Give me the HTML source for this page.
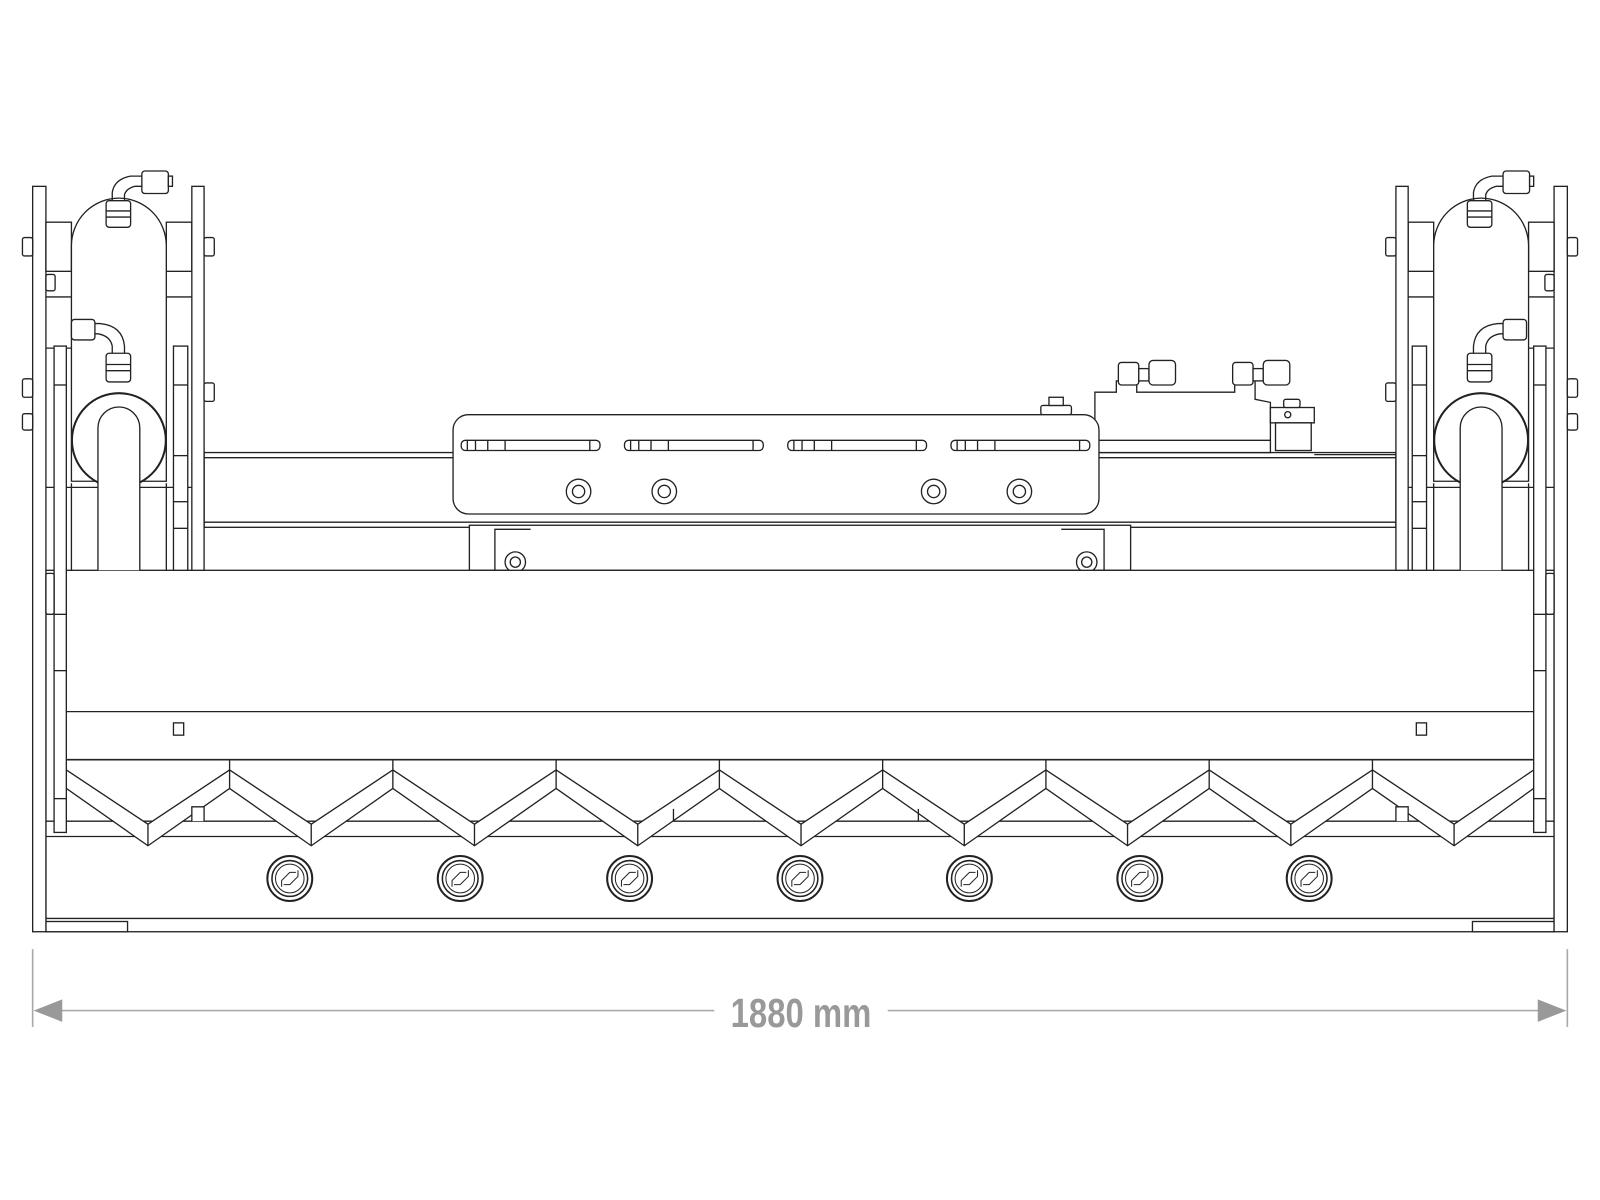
<!DOCTYPE html>
<html><head><meta charset="utf-8"><style>
html,body{margin:0;padding:0;background:#fff;}
svg{display:block;}
</style></head><body>
<svg width="1600" height="1200" viewBox="0 0 1568 1172" preserveAspectRatio="none" xmlns="http://www.w3.org/2000/svg">
<defs>
<g id="side" fill="#fff" stroke="#222" stroke-width="1.3">
  <rect x="32" y="182" width="13" height="728"/>
  <rect x="22" y="232" width="10" height="18" rx="2"/>
  <rect x="45" y="268" width="9" height="16" rx="2"/>
  <rect x="22" y="370" width="10" height="18" rx="2"/>
  <rect x="22" y="404" width="10" height="16" rx="2"/>
  <rect x="45" y="217" width="25" height="48"/>
  <rect x="163" y="217" width="25" height="48"/>
  <line x1="45" y1="290" x2="70" y2="290"/><line x1="163" y1="290" x2="188" y2="290"/>
  <line x1="45" y1="340" x2="70" y2="340"/>
  <line x1="45" y1="476" x2="70" y2="476"/><line x1="163" y1="476" x2="188" y2="476"/>
  <rect x="188" y="182" width="12" height="375"/>
  <rect x="200" y="232" width="10" height="18" rx="2"/>
  <rect x="200" y="374" width="10" height="18" rx="2"/>
  <path d="M70 240 A46.5 46.5 0 0 1 163 240 L163 470 L70 470 Z"/>
  <circle cx="116.5" cy="430" r="46" stroke-width="2"/>
  <line x1="70" y1="476" x2="163" y2="476"/>
  <path d="M96 557 L96 418 A20.5 20.5 0 0 1 137 418 L137 557"/>
  <line x1="70" y1="472" x2="70" y2="557"/><line x1="163" y1="472" x2="163" y2="557"/>
  <rect x="53" y="338" width="12" height="475"/>
  <rect x="170" y="338" width="14" height="219"/>
  <line x1="170" y1="376" x2="184" y2="376"/><line x1="170" y1="445" x2="184" y2="445"/>
  <line x1="170" y1="490" x2="184" y2="490"/><line x1="170" y1="516" x2="184" y2="516"/>
  <line x1="53" y1="376" x2="65" y2="376"/><line x1="53" y1="600" x2="65" y2="600"/>
  <line x1="53" y1="655" x2="65" y2="655"/><line x1="53" y1="780" x2="65" y2="780"/>
  <rect x="45" y="560" width="8" height="40" rx="2"/>
</g>
<g id="fit" fill="#fff" stroke="#222" stroke-width="1.3">
  <rect x="104" y="196" width="24" height="26" rx="3"/>
  <line x1="104" y1="206" x2="128" y2="206"/><line x1="104" y1="212" x2="128" y2="212"/>
  <path d="M110 196 L110 188 Q112 175 128 172 L140 172 M122 196 L122 190 Q124 184 132 182 L140 182" fill="none"/>
  <rect x="139" y="167" width="26" height="22" rx="3"/>
  <rect x="165" y="172" width="4" height="10"/>
</g>
<g id="fit2" fill="#fff" stroke="#222" stroke-width="1.3">
  <rect x="104" y="345" width="24" height="28" rx="3"/>
  <line x1="104" y1="356" x2="128" y2="356"/><line x1="104" y1="362" x2="128" y2="362"/>
  <path d="M110 345 L110 338 Q108 328 96 326 L92 326 M122 345 L122 338 Q120 318 98 316 L92 316" fill="none"/>
  <rect x="70" y="312" width="23" height="20" rx="3"/>
</g>
</defs>

<g fill="#fff" stroke="#222" stroke-width="1.3">
  <rect x="200" y="442" width="1168" height="73"/>
  <line x1="200" y1="447" x2="1368" y2="447"/>
  <line x1="200" y1="510" x2="1368" y2="510"/>
  <rect x="460" y="513" width="648" height="44"/>
  <path d="M485 557 L485 517 L520 517 M1082 557 L1082 517 L1040 517"/>
  <circle cx="505" cy="549" r="10"/><circle cx="505" cy="549" r="5"/>
  <circle cx="1065" cy="549" r="10"/><circle cx="1065" cy="549" r="5"/>

  <path d="M1073 442 L1073 383 L1094 383 L1094 372 L1114 372 L1114 383 L1210 383 L1210 372 L1230 372 L1230 390 L1245 393 L1245 442 Z"/>
  <line x1="1076" y1="430" x2="1245" y2="430"/>
  <rect x="1096" y="354" width="20" height="22" rx="3"/>
  <rect x="1116" y="360" width="10" height="12"/>
  <rect x="1126" y="352" width="26" height="24" rx="4"/>
  <rect x="1208" y="354" width="20" height="22" rx="3"/>
  <rect x="1228" y="360" width="10" height="12"/>
  <rect x="1238" y="352" width="26" height="24" rx="4"/>
  <rect x="1245" y="398" width="43" height="15"/>
  <rect x="1250" y="413" width="35" height="27"/>
  <circle cx="1262" cy="405" r="3"/>
  <rect x="1258" y="390" width="16" height="8" rx="2"/>
  <rect x="1020" y="396" width="30" height="9" rx="2"/>
  <rect x="1028" y="388" width="14" height="8"/>
  <line x1="1288" y1="444" x2="1368" y2="444"/>

  <rect x="444" y="405" width="633" height="97" rx="15"/>
  <g>
    <rect x="452" y="430" width="136" height="10" rx="4"/>
    <rect x="612" y="430" width="136" height="10" rx="4"/>
    <rect x="772" y="430" width="136" height="10" rx="4"/>
    <rect x="932" y="430" width="136" height="10" rx="4"/>
    <path d="M458 430v10M466 430v10M478 430v10M495 430v10M578 430v10M618 430v10M626 430v10M638 430v10M655 430v10M738 430v10M778 430v10M786 430v10M798 430v10M815 430v10M898 430v10M938 430v10M946 430v10M958 430v10M975 430v10M1058 430v10"/>
  </g>
  <circle cx="567" cy="480" r="12"/><circle cx="567" cy="480" r="6"/>
  <circle cx="651" cy="480" r="12"/><circle cx="651" cy="480" r="6"/>
  <circle cx="915" cy="480" r="12"/><circle cx="915" cy="480" r="6"/>
  <circle cx="999" cy="480" r="12"/><circle cx="999" cy="480" r="6"/>

  <rect x="45" y="557" width="1478" height="353"/>
  <line x1="65" y1="557" x2="65" y2="813"/>
  <line x1="1503" y1="557" x2="1503" y2="813"/>
  <line x1="65" y1="695" x2="1503" y2="695"/>
  <line x1="65" y1="742" x2="1503" y2="742" stroke-width="1.6"/>
  <line x1="45" y1="802" x2="1523" y2="802"/>
  <line x1="45" y1="817" x2="1523" y2="817"/>
  <line x1="45" y1="897" x2="1523" y2="897"/>
  <rect x="170" y="706" width="10" height="12"/>
  <rect x="1388" y="706" width="10" height="12"/>
  <rect x="45" y="900" width="80" height="10"/>
  <rect x="1443" y="900" width="80" height="10"/>
</g>

<g fill="#fff" stroke="#222" stroke-width="1.3">
  <path d="M65 752 L145 805 L225 752 L305 805 L385 752 L465 805 L545 752 L625 805 L705 752 L785 805 L865 752 L945 805 L1025 752 L1105 805 L1185 752 L1265 805 L1345 752 L1425 805 L1503 752 L1503 770 L1425 826 L1345 770 L1265 826 L1185 770 L1105 826 L1025 770 L945 826 L865 770 L785 826 L705 770 L625 826 L545 770 L465 826 L385 770 L305 826 L225 770 L145 826 L65 770 Z"/>
  <path d="M145 805v21M305 805v21M465 805v21M625 805v21M785 805v21M945 805v21M1105 805v21M1265 805v21M1425 805v21 M225 742v28M385 742v28M545 742v28M705 742v28M865 742v28M1025 742v28M1185 742v28M1345 742v28"/>
  <path d="M188 802v-14h12v14M1368 802v-14h12v14M660 802v-12M900 802v-12"/>
</g>

<g fill="#fff" stroke="#222">
  <g id="b1">
    <circle cx="284" cy="858" r="22" stroke-width="2"/>
    <circle cx="284" cy="858" r="17.5" stroke-width="1.5"/>
    <circle cx="284" cy="858" r="14" stroke-width="1"/>
    <path d="M276 866 L276 860 L284 852 L290 852 M292 850 L292 856 L284 864 L278 864" stroke-width="1" fill="none"/>
  </g>
  <use href="#b1" x="167"/><use href="#b1" x="333"/><use href="#b1" x="500"/>
  <use href="#b1" x="666"/><use href="#b1" x="833"/><use href="#b1" x="999"/>
</g>

<use href="#side"/>
<use href="#side" transform="translate(1568,0) scale(-1,1)"/>
<use href="#fit"/>
<use href="#fit2"/>
<use href="#fit" x="1334"/>
<use href="#fit2" transform="translate(1566,0) scale(-1,1)"/>

<g stroke="#aaa" stroke-width="1.6" fill="#999">
  <line x1="32" y1="927" x2="32" y2="1003"/>
  <line x1="1536" y1="927" x2="1536" y2="1003"/>
  <line x1="60" y1="987" x2="700" y2="987"/>
  <line x1="870" y1="987" x2="1508" y2="987"/>
  <polygon points="33,987 61,976 61,998" stroke="none"/>
  <polygon points="1535,987 1507,976 1507,998" stroke="none"/>
</g>
<text x="785" y="1003" text-anchor="middle" font-family="Liberation Sans, sans-serif" font-size="40" font-weight="bold" fill="#999" textLength="138" lengthAdjust="spacingAndGlyphs">1880 mm</text>
</svg>
</body></html>
